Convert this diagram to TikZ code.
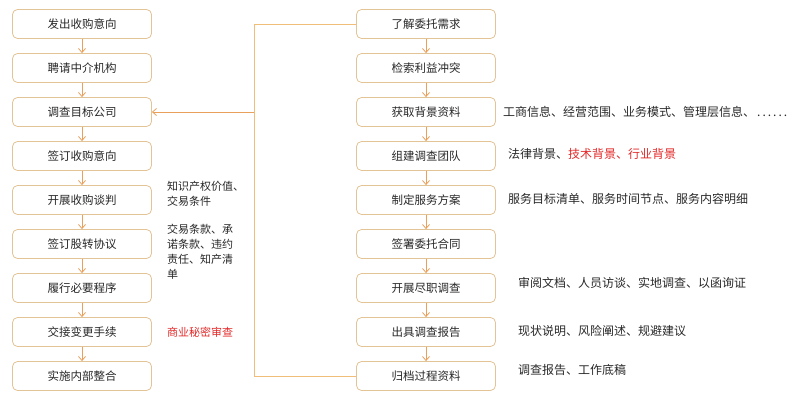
\documentclass[tikz,border=0pt]{standalone}
\usepackage{fontspec}
\setmainfont{Noto Sans CJK SC}
\usetikzlibrary{arrows.meta}
\definecolor{boxline}{RGB}{226,196,150}
\definecolor{flowline}{RGB}{240,190,120}
\definecolor{arrowtip}{RGB}{232,160,90}
\definecolor{textgray}{RGB}{40,40,40}
\definecolor{notered}{RGB}{226,40,40}
\begin{document}
\begin{tikzpicture}[x=1pt, y=-1pt]
\tikzset{ >={Straight Barb[length=4pt,width=7pt]},
  stepbox/.style={draw=boxline, line width=0.8pt, rounded corners=5pt, fill=white,
    minimum width=139pt, minimum height=29pt, inner sep=0pt,
    font=\fontsize{11.5}{13}\selectfont, text=textgray},
  note/.style={anchor=west, inner sep=0pt, font=\fontsize{11}{15}\selectfont,
    text=textgray, align=left},
  wide note/.style={note, font=\fontsize{12}{15}\selectfont},
  link/.style={->, draw=flowline, line width=0.8pt, arrowtip},
}

\useasboundingbox (0,0) rectangle (799,409);

% left column
\node [stepbox] (L1) at (82,24)  {发出收购意向};
\node [stepbox] (L2) at (82,68)  {聘请中介机构};
\node [stepbox] (L3) at (82,112) {调查目标公司};
\node [stepbox] (L4) at (82,156) {签订收购意向};
\node [stepbox] (L5) at (82,200) {开展收购谈判};
\node [stepbox] (L6) at (82,244) {签订股转协议};
\node [stepbox] (L7) at (82,288) {履行必要程序};
\node [stepbox] (L8) at (82,332) {交接变更手续};
\node [stepbox] (L9) at (82,376) {实施内部整合};

% right column
\node [stepbox] (R1) at (426,24)  {了解委托需求};
\node [stepbox] (R2) at (426,68)  {检索利益冲突};
\node [stepbox] (R3) at (426,112) {获取背景资料};
\node [stepbox] (R4) at (426,156) {组建调查团队};
\node [stepbox] (R5) at (426,200) {制定服务方案};
\node [stepbox] (R6) at (426,244) {签署委托合同};
\node [stepbox] (R7) at (426,288) {开展尽职调查};
\node [stepbox] (R8) at (426,332) {出具调查报告};
\node [stepbox] (R9) at (426,376) {归档过程资料};

\foreach \a/\b in {1/2,2/3,3/4,4/5,5/6,6/7,7/8,8/9} {
  \draw [link] (L\a) -- (L\b);
  \draw [link] (R\a) -- (R\b);
}

% bracket from the right column back to the left
\coordinate (T) at (254,24);
\coordinate (B) at (254,376);
\coordinate (M) at (254,112);
\draw [draw=flowline, line width=0.8pt] (R1.west) -- (T) -- (B) -- (R9.west);
\draw [link] (M) -- (L3.east);

% notes
\node [note, anchor=north west] (N5) at (167,181) {知识产权价值、\\交易条件};
\node [note, anchor=north west] (N6) at (167,224) {交易条款、承\\诺条款、违约\\责任、知产清\\单};
\node [note, text=notered] (N8) at (167,332) {商业秘密审查};

\node [wide note] (N3) at (503,112) {工商信息、经营范围、业务模式、管理层信息、\,.\,.\,.\,.\,.\,.};
\node [wide note] (N4) at (508,154) {法律背景、\textcolor{notered}{技术背景、行业背景}};
\node [wide note] (N5r) at (508,199) {服务目标清单、服务时间节点、服务内容明细};
\node [wide note] (N7) at (518,283) {审阅文档、人员访谈、实地调查、以函询证};
\node [wide note] (N8r) at (518,331) {现状说明、风险阐述、规避建议};
\node [wide note] (N9) at (518,370) {调查报告、工作底稿};

\end{tikzpicture}
\end{document}
